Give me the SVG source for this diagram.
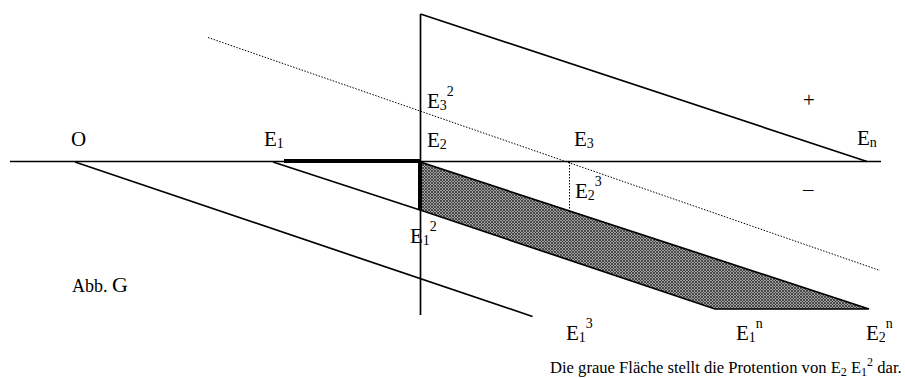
<svg xmlns="http://www.w3.org/2000/svg" width="905" height="378" viewBox="0 0 905 378">
<style>
  .ln { stroke: #000; stroke-width: 1.7; fill: none; }
  .thick { stroke: #000; stroke-width: 4; fill: none; }
  .dot { stroke: #000; stroke-width: 1; stroke-dasharray: 1.5 1.5; fill: none; }
  .lbl { font-family: "Liberation Serif", "Times New Roman", serif; font-size: 21px; fill: #000; }
  .sm { font-size: 14px; }
  .cap { font-family: "Liberation Serif", "Times New Roman", serif; font-size: 16.6px; fill: #000; }
  .abb { font-family: "Liberation Serif", "Times New Roman", serif; font-size: 18px; fill: #000; }
</style>
<defs>
  <pattern id="hatch" width="3" height="3" patternUnits="userSpaceOnUse">
    <rect width="3" height="3" fill="#a0a0a0"/>
    <path d="M0,0 L3,3 M0,3 L3,0" stroke="#333" stroke-width="0.8"/>
  </pattern>
</defs>
<rect width="905" height="378" fill="#fff"/>

<g id="area">
  <polygon points="420,162 420,210 715,309 869,309" fill="url(#hatch)" stroke="#000" stroke-width="1.7"/>
</g>

<g id="connectors">
  <line class="ln" x1="10" y1="161.5" x2="881" y2="161.5"/>
  <line class="ln" x1="420.5" y1="14" x2="420.5" y2="315"/>
  <line class="ln" x1="420.5" y1="14" x2="867" y2="161.5"/>
  <line class="dot" x1="208" y1="37.5" x2="880" y2="270.5"/>
  <line class="dot" x1="569.5" y1="162" x2="569.5" y2="209"/>
  <line class="ln" x1="75" y1="162" x2="532.5" y2="316.5"/>
  <line class="ln" x1="273" y1="162" x2="420" y2="210"/>
  <line class="thick" x1="284" y1="161" x2="420" y2="161"/>
  <line class="thick" x1="420" y1="161" x2="420" y2="210"/>
</g>

<g id="O"><text class="lbl" x="71" y="146">O</text></g>
<g id="E1"><text class="lbl" x="264" y="146">E<tspan class="sm" dy="2">1</tspan></text></g>
<g id="E2"><text class="lbl" x="427" y="147">E<tspan class="sm" dy="2">2</tspan></text></g>
<g id="E3_2"><text class="lbl" x="427" y="108">E<tspan class="sm" dy="2">3</tspan><tspan class="sm" dy="-14">2</tspan></text></g>
<g id="E3"><text class="lbl" x="574" y="146">E<tspan class="sm" dy="2">3</tspan></text></g>
<g id="En"><text class="lbl" x="857" y="145">E<tspan class="sm" dy="2">n</tspan></text></g>
<g id="plus"><text class="lbl" x="803" y="107">+</text></g>
<g id="minus"><text class="lbl" x="803" y="196">–</text></g>
<g id="E2_3"><text class="lbl" x="575" y="198">E<tspan class="sm" dy="2">2</tspan><tspan class="sm" dy="-14">3</tspan></text></g>
<g id="E1_2"><text class="lbl" x="410" y="243">E<tspan class="sm" dy="2">1</tspan><tspan class="sm" dy="-14">2</tspan></text></g>
<g id="E1_3"><text class="lbl" x="566" y="340">E<tspan class="sm" dy="2">1</tspan><tspan class="sm" dy="-14">3</tspan></text></g>
<g id="E1_n"><text class="lbl" x="736" y="340">E<tspan class="sm" dy="2">1</tspan><tspan class="sm" dy="-14">n</tspan></text></g>
<g id="E2_n"><text class="lbl" x="866" y="340">E<tspan class="sm" dy="2">2</tspan><tspan class="sm" dy="-14">n</tspan></text></g>
<g id="abb"><text class="abb" x="72" y="292">Abb. <tspan style="font-size:22px">G</tspan></text></g>
<g id="caption"><text class="cap" x="550" y="373">Die graue Fläche stellt die Protention von E<tspan font-size="12" dy="3">2</tspan><tspan dy="-3"> E</tspan><tspan font-size="12" dy="3">1</tspan><tspan font-size="12" dy="-10">2</tspan><tspan dy="7"> dar.</tspan></text></g>
</svg>
